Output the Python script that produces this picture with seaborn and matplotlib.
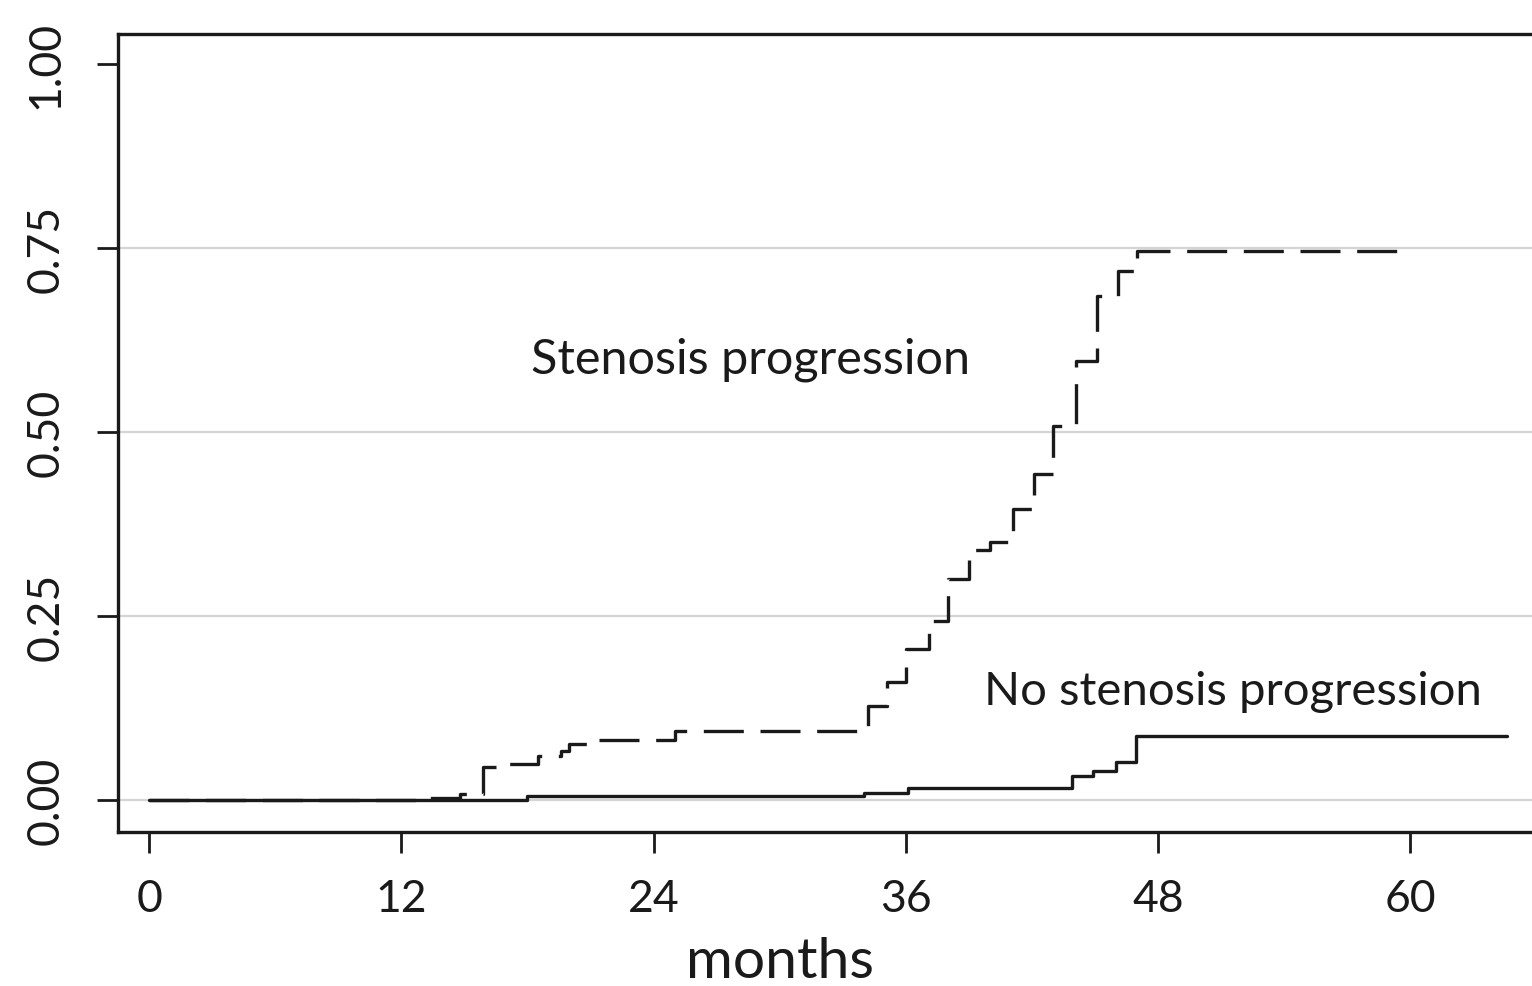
import matplotlib
matplotlib.use("Agg")
import matplotlib.pyplot as plt
import pandas as pd
import seaborn as sns

# cumulative incidence (months, probability)
prog_months = [0, 12.9, 14.8, 15.9, 16.9, 18.5, 19.6, 20.0, 21.0, 25.0, 34.2, 35.1, 36.0, 37.1,
               38.0, 39.0, 40.0, 41.1, 42.1, 43.0, 44.1, 45.1, 46.1, 47.0, 60.0]
prog_values = [0, 0.003, 0.008, 0.045, 0.049, 0.060, 0.067, 0.076, 0.082, 0.094, 0.128, 0.160, 0.205, 0.243,
               0.300, 0.340, 0.350, 0.395, 0.443, 0.508, 0.596, 0.685, 0.719, 0.746, 0.746]

noprog_months = [0, 18.0, 34.0, 36.1, 43.9, 44.9, 46.0, 46.95, 64.6]
noprog_values = [0, 0.005, 0.010, 0.016, 0.033, 0.040, 0.052, 0.087, 0.087]

x_ticks = [0, 12, 24, 36, 48, 60]
y_ticks = [0.00, 0.25, 0.50, 0.75, 1.00]
grid_levels = [0.00, 0.25, 0.50, 0.75]

sns.set_style("white")
plt.rcParams['font.family'] = ['Lato', 'DejaVu Sans']

prog_df = pd.DataFrame({'months': prog_months, 'cif': prog_values})
noprog_df = pd.DataFrame({'months': noprog_months, 'cif': noprog_values})

fig = plt.figure(figsize=(15.32, 9.87), dpi=100)
ax = fig.add_axes([0.077, 0.156, 0.93, 0.8085])

for lvl in grid_levels:
    ax.axhline(lvl, color='#d4d4d4', lw=1.6, zorder=0)

sns.lineplot(data=noprog_df, x='months', y='cif', ax=ax, color='#1a1a1a', lw=2.4,
             drawstyle='steps-post', estimator=None, sort=False)
sns.lineplot(data=prog_df, x='months', y='cif', ax=ax, color='#1a1a1a', lw=2.4,
             drawstyle='steps-post', estimator=None, sort=False, dashes=False)
ax.lines[-1].set_dashes((12, 5))

ax.text(28.6, 0.60, 'Stenosis progression', fontsize=35, ha='center', va='center', color='#1a1a1a')
ax.text(39.7, 0.148, 'No stenosis progression', fontsize=34, ha='left', va='center', color='#1a1a1a')

ax.set_xlim(-1.48, 66.3)
ax.set_ylim(-0.0435, 1.041)
ax.set_xticks(x_ticks)
ax.set_yticks(y_ticks)
ax.set_yticklabels([f'{v:.2f}' for v in y_ticks], rotation=90, va='center')
ax.tick_params(axis='both', direction='out', length=15, width=2.0, colors='#1a1a1a',
               labelsize=32, left=True, bottom=True)
ax.tick_params(axis='x', pad=18)
ax.tick_params(axis='y', pad=22)
ax.set_xlabel('months', fontsize=41, color='#1a1a1a')
ax.set_ylabel('')
ax.xaxis.set_label_coords(0.465, -0.13)

for side in ['left', 'bottom', 'top']:
    ax.spines[side].set_color('#1a1a1a')
    ax.spines[side].set_linewidth(2.4)
ax.spines['right'].set_visible(False)

fig.savefig('out.png', dpi=100)
